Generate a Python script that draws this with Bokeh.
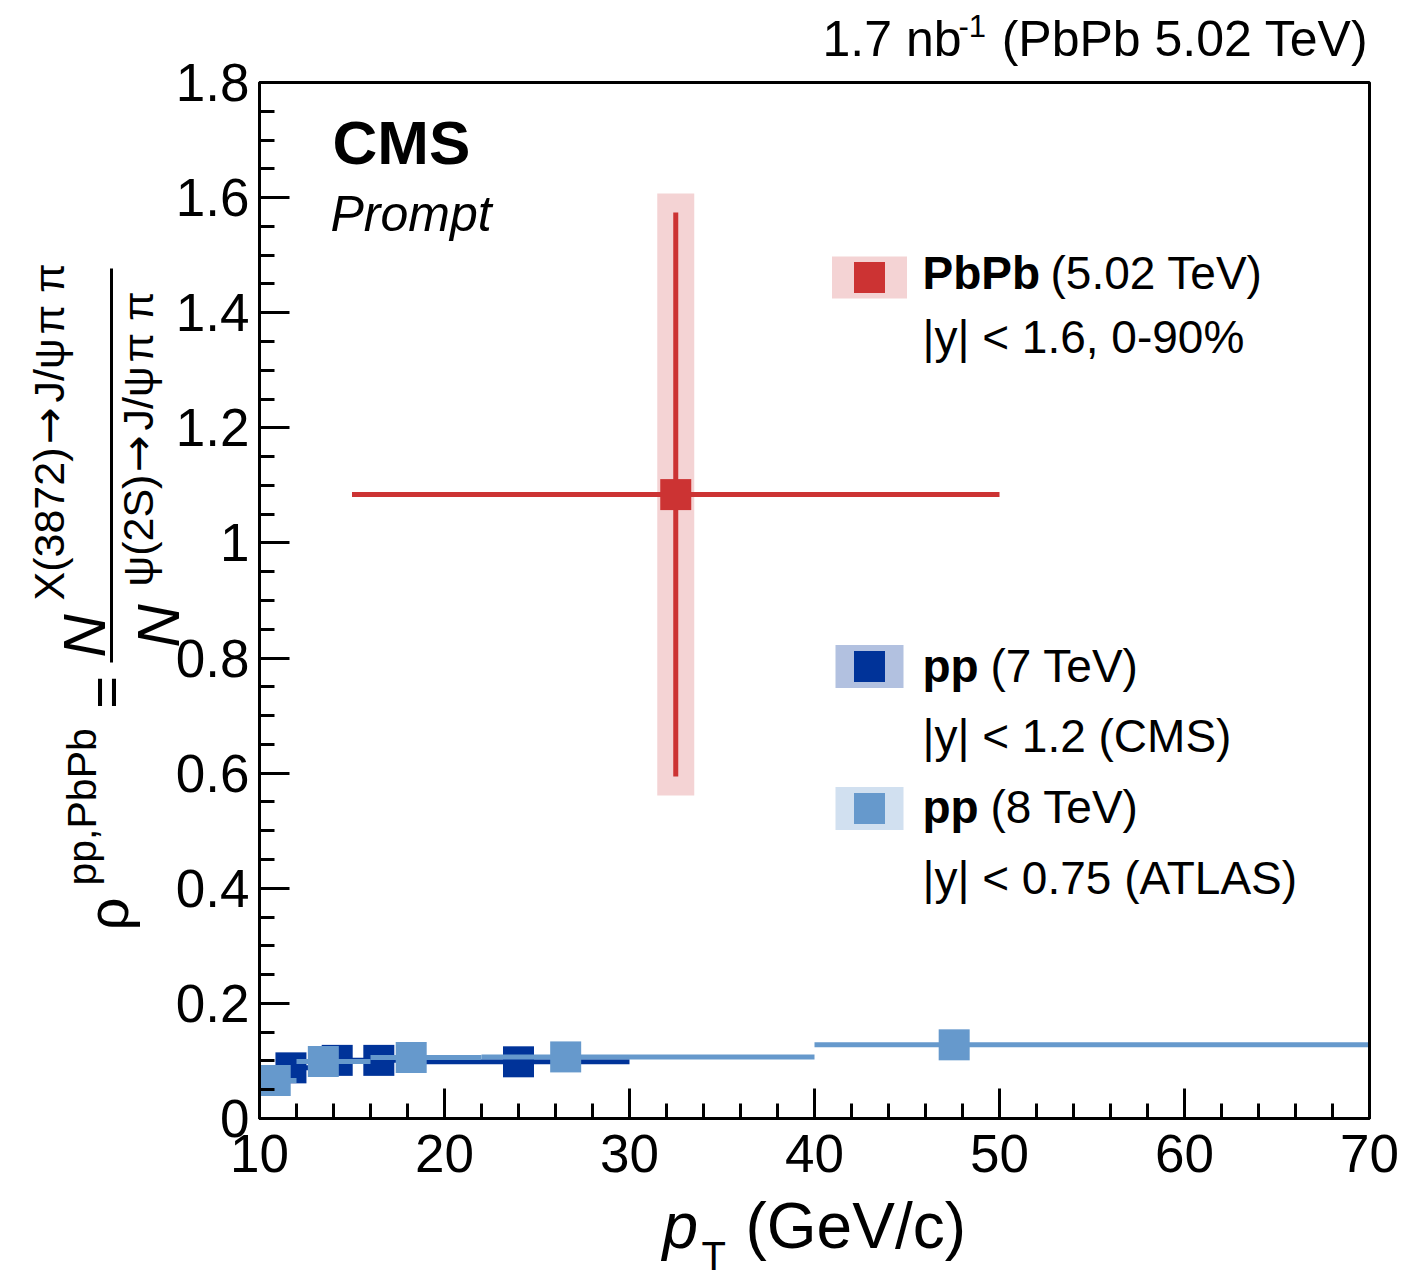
import math
from bokeh.plotting import figure
from bokeh.models import (Label, Arrow, BoxAnnotation, SingleIntervalTicker,
                          CustomJSTickFormatter, LinearAxis, Range1d)
from bokeh.embed import file_html
from bokeh.resources import INLINE

# ---------------- data ----------------
# PbPb 5.02 TeV (CMS)
pbpb_pt = [32.5]
pbpb_ratio = [1.084]
pbpb_pt_lo = [15.0]
pbpb_pt_hi = [50.0]
pbpb_stat = [0.49]
pbpb_syst = [0.523]

# pp 7 TeV (CMS), |y| < 1.2
cms_pt = [11.7, 14.2, 16.45, 24.0]
cms_ratio = [0.088, 0.101, 0.101, 0.0985]
cms_pt_lo = [10.0, 13.5, 15.0, 18.0]
cms_pt_hi = [13.5, 15.0, 18.0, 30.0]

# pp 8 TeV (ATLAS), |y| < 0.75
atlas_pt = [10.85, 13.45, 18.2, 26.55, 47.55]
atlas_ratio = [0.066, 0.099, 0.106, 0.107, 0.128]
atlas_pt_lo = [10.0, 12.0, 16.0, 22.0, 40.0]
atlas_pt_hi = [12.0, 16.0, 22.0, 40.0, 70.0]

x_axis_range = (10, 70)
y_axis_range = (0, 1.8)
x_ticks_interval = 10
y_ticks_interval = 0.2

# ---------------- styling ----------------
RED = "#cc3333"
RED_BOX = "#f4d3d4"
DBLUE = "#003399"
DBLUE_BOX = "#b2c1e0"
LBLUE = "#6699cc"
LBLUE_BOX = "#d1e0f0"
FONT = "Liberation Sans"

W, H = 1412, 1279
# axes box in canvas pixels
FL, FR, FT, FB = 259, 1369, 82, 1118
PPX = (FR - FL) / (x_axis_range[1] - x_axis_range[0])
PPY = (FB - FT) / (y_axis_range[1] - y_axis_range[0])

def X(px):
    return x_axis_range[0] + (px - FL) / PPX

def Y(py):
    return y_axis_range[0] + (FB - py) / PPY

p = figure(width=W, height=H,
           x_range=Range1d(X(0), X(W)), y_range=Range1d(Y(H), Y(0)),
           output_backend="svg", toolbar_location=None,
           min_border=0, min_border_left=0, min_border_right=0,
           min_border_top=0, min_border_bottom=0,
           x_axis_type=None, y_axis_type=None)
p.grid.visible = False
p.outline_line_color = None
p.background_fill_color = "white"
p.border_fill_color = "white"

xaxis = LinearAxis(ticker=SingleIntervalTicker(interval=x_ticks_interval, num_minor_ticks=5),
                   fixed_location=y_axis_range[0], bounds=x_axis_range)
yaxis = LinearAxis(ticker=SingleIntervalTicker(interval=y_ticks_interval, num_minor_ticks=4),
                   formatter=CustomJSTickFormatter(code="return tick.toFixed(1).replace(/\\.0$/, '')"),
                   fixed_location=x_axis_range[0], bounds=y_axis_range)
for ax in (xaxis, yaxis):
    ax.axis_line_width = 3
    ax.axis_line_color = "black"
    ax.major_tick_in = 30
    ax.major_tick_out = 0
    ax.minor_tick_in = 15
    ax.minor_tick_out = 0
    ax.major_tick_line_width = 3
    ax.minor_tick_line_width = 3
    ax.major_tick_line_color = "black"
    ax.minor_tick_line_color = "black"
    ax.major_label_text_font = FONT
    ax.major_label_text_font_size = "53px"
    ax.major_label_text_color = "black"
xaxis.major_label_standoff = 16
yaxis.major_label_standoff = 10
p.add_layout(xaxis, "below")
p.add_layout(yaxis, "left")

# ---------------- data marks ----------------
# PbPb
p.quad(left=[v - 1.0 for v in pbpb_pt], right=[v + 1.0 for v in pbpb_pt],
       bottom=[r - s for r, s in zip(pbpb_ratio, pbpb_syst)],
       top=[r + s for r, s in zip(pbpb_ratio, pbpb_syst)],
       fill_color=RED_BOX, line_color=None)
p.segment(x0=pbpb_pt, x1=pbpb_pt,
          y0=[r - s for r, s in zip(pbpb_ratio, pbpb_stat)],
          y1=[r + s for r, s in zip(pbpb_ratio, pbpb_stat)],
          line_color=RED, line_width=5)
p.segment(x0=pbpb_pt_lo, x1=pbpb_pt_hi, y0=pbpb_ratio, y1=pbpb_ratio,
          line_color=RED, line_width=5)
p.scatter(pbpb_pt, pbpb_ratio, marker="square", size=31, fill_color=RED, line_color=None)

# CMS pp 7 TeV
p.segment(x0=cms_pt_lo, x1=cms_pt_hi, y0=cms_ratio, y1=cms_ratio,
          line_color=DBLUE, line_width=5)
p.scatter(cms_pt, cms_ratio, marker="square", size=31, fill_color=DBLUE, line_color=None)

# ATLAS pp 8 TeV
p.segment(x0=atlas_pt_lo, x1=atlas_pt_hi, y0=atlas_ratio, y1=atlas_ratio,
          line_color=LBLUE, line_width=5)
p.scatter(atlas_pt, atlas_ratio, marker="square", size=31, fill_color=LBLUE, line_color=None)

# axes frame
p.add_layout(BoxAnnotation(left=x_axis_range[0], right=x_axis_range[1],
                           bottom=y_axis_range[0], top=y_axis_range[1],
                           fill_color=None, fill_alpha=0, line_color="black",
                           line_width=3, line_alpha=1.0))

# ---------------- annotations ----------------
K = 0.37  # baseline correction (fraction of font size)

def lab(px, py, text, size, style="normal", align="left", rotated=False, font=FONT):
    if rotated:
        px = px - K * size
        angle = math.pi / 2
    else:
        py = py - K * size
        angle = 0.0
    p.add_layout(Label(x=X(px), y=Y(py), text=text, text_font=font,
                       text_font_size=f"{size}px", text_font_style=style,
                       text_align=align, text_baseline="alphabetic", angle=angle,
                       text_color="black"))

# top right luminosity text
lab(822, 57, "1.7 nb", 50)
lab(958, 37, "-1", 31)
lab(1368, 57, "(PbPb 5.02 TeV)", 50, align="right")

# CMS / Prompt
lab(332, 165, "CMS", 62, style="bold")
lab(330, 232, "Prompt", 50, style="italic")

# x axis title
lab(662, 1249, "p", 64, style="italic")
lab(701, 1270, "T", 40)
lab(745, 1249, "(GeV/c)", 64)

# y axis title (rotated, reads bottom to top)
lab(128, 930, "ρ", 58, rotated=True)
lab(97, 885, "pp,PbPb", 41, rotated=True)
lab(126, 692, "=", 56, align="center", rotated=True)
lab(106, 657, "N", 60, style="italic", rotated=True)
lab(64, 600, "X(3872)", 43, rotated=True)
lab(64, 444, "→", 44, rotated=True, font="DejaVu Sans")
lab(64, 402, "J/ψ", 43, rotated=True)
lab(64, 334, "π π", 43, rotated=True)
lab(180, 647, "N", 60, style="italic", rotated=True)
lab(153, 586, "ψ(2S)", 43, rotated=True)
lab(153, 472, "→", 44, rotated=True, font="DejaVu Sans")
lab(153, 430, "J/ψ", 43, rotated=True)
lab(153, 362, "π π", 43, rotated=True)
p.add_layout(Arrow(x_start=X(111), y_start=Y(268), x_end=X(111), y_end=Y(662),
                   start=None, end=None, line_color="black", line_width=3))

# legend
def swatch(cx, cy, bw, bh, box_color, mk_color):
    p.add_layout(BoxAnnotation(left=X(cx - bw / 2), right=X(cx + bw / 2),
                               bottom=Y(cy + bh / 2), top=Y(cy - bh / 2),
                               fill_color=box_color, fill_alpha=1.0, line_color=None))
    p.add_layout(BoxAnnotation(left=X(cx - 15.5), right=X(cx + 15.5),
                               bottom=Y(cy + 15.5), top=Y(cy - 15.5),
                               fill_color=mk_color, fill_alpha=1.0, line_color=None))

swatch(869, 277, 75, 42, RED_BOX, RED)
swatch(869, 666, 68, 43, DBLUE_BOX, DBLUE)
swatch(869, 808, 68, 43, LBLUE_BOX, LBLUE)

LS = 46
lab(922, 290, "PbPb", LS, style="bold")
lab(1050, 290, "(5.02 TeV)", LS)
lab(922, 354, "|y| < 1.6, 0-90%", LS)
lab(922, 683, "pp", LS, style="bold")
lab(990, 683, "(7 TeV)", LS)
lab(922, 753, "|y| < 1.2 (CMS)", LS)
lab(922, 824, "pp", LS, style="bold")
lab(990, 824, "(8 TeV)", LS)
lab(922, 895, "|y| < 0.75 (ATLAS)", LS)

open("out.html", "w").write(file_html(p, INLINE))
